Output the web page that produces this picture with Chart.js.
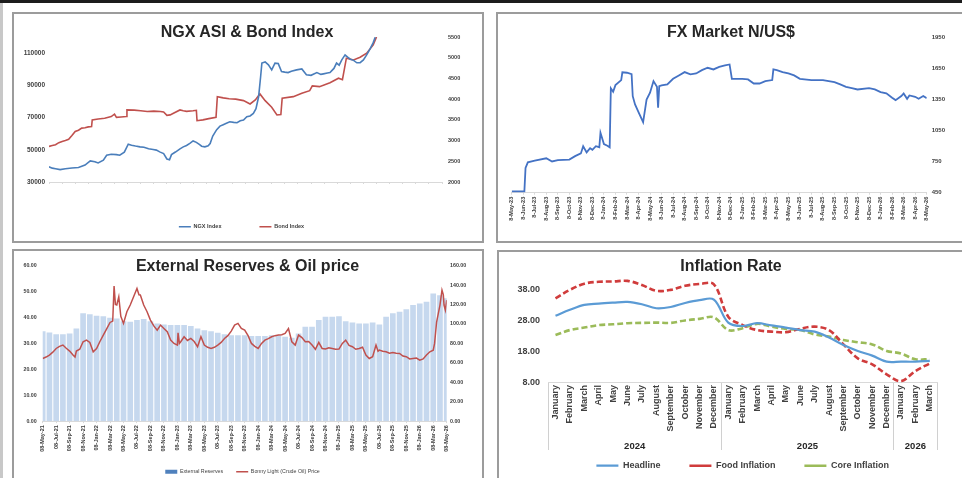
<!DOCTYPE html>
<html>
<head>
<meta charset="utf-8">
<script src="https://cdn.jsdelivr.net/npm/chart.js@4.4.1/dist/chart.umd.min.js"></script>
<style>
html,body{margin:0;padding:0;width:962px;height:478px;overflow:hidden;background:#fff;font-family:"Liberation Sans",Arial,sans-serif;position:relative;}
.topbar{position:absolute;left:0;top:0;width:962px;height:3px;background:#1c1c1c;}
.leftline{position:absolute;left:0;top:3px;width:3px;height:475px;background:#c8c8c8;}
.panel{position:absolute;border:2px solid #9c9c9c;box-sizing:border-box;}
.title{position:absolute;font-weight:bold;font-size:16px;color:#262626;white-space:nowrap;transform:translate(-50%,-50%);line-height:18px;}
canvas{position:absolute;}
</style>
</head>
<body>
<div class="topbar"></div>
<div class="leftline"></div>
<div class="panel" style="left:12px;top:12px;width:472px;height:231px;"></div>
<div class="panel" style="left:496px;top:12px;width:480px;height:231px;"></div>
<div class="panel" style="left:12px;top:249px;width:472px;height:240px;"></div>
<div class="panel" style="left:497px;top:250px;width:480px;height:240px;"></div>

<canvas id="cNgx" width="468" height="226" style="left:14px;top:14px;"></canvas>
<canvas id="cFx" width="464" height="226" style="left:498px;top:14px;"></canvas>
<canvas id="cRes" width="468" height="240" style="left:14px;top:251px;"></canvas>
<canvas id="cInf" width="463" height="240" style="left:499px;top:252px;"></canvas>

<div class="title" style="left:247px;top:32px;">NGX ASI &amp; Bond Index</div>
<div class="title" style="left:731px;top:32px;">FX Market N/US$</div>
<div class="title" style="left:247.5px;top:266px;">External Reserves &amp; Oil price</div>
<div class="title" style="left:731px;top:266px;">Inflation Rate</div>

<script>
// ---------------- DATA ----------------
// NGX ASI & Bond Index (x = months since 8-May-21)
const ngxTickLabels = ['8-May-21','8-Jul-21','8-Sep-21','8-Nov-21','8-Jan-22','8-Mar-22','8-May-22','8-Jul-22','8-Sep-22','8-Nov-22','8-Jan-23','8-Mar-23','8-May-23','8-Jul-23','8-Sep-23','8-Nov-23','8-Jan-24','8-Mar-24','8-May-24','8-Jul-24','8-Sep-24','8-Nov-24','8-Jan-25','8-Mar-25','8-May-25','8-Jul-25','8-Sep-25','8-Nov-25','8-Jan-26','8-Mar-26','8-May-26'];
const ngxAxisTicks = [30000, 50000, 70000, 90000, 110000];
const ngxMonths = [0,0.5,1,1.7,2.5,3.5,4.5,5.5,6.3,7,7.5,8.3,8.8,9.5,10.3,10.8,11.5,12.1,12.6,13.2,13.9,14.5,15.2,15.9,16.4,16.9,17.5,18,18.4,18.7,19.3,20,20.5,21,21.5,22,22.5,23,23.3,23.8,24.3,24.6,25,25.3,25.6,26.1,26.6,27,27.6,28.2,28.7,29.2,29.7,30.2,30.7,31.2,31.6,32,32.3,32.5,33,33.5,34,34.5,35,35.5,36,36.5,37,37.8,38.6,39.3,40,40.9,41.5,41.9,42.5,42.9,43.5,43.9,44.3,44.7,45.2,45.6,46,46.5,47,47.5,48,48.5,49,49.5,49.8];
const ngxValues = [39400,38600,38200,37700,38200,38700,39000,40500,43100,42600,41800,43500,46600,47200,47000,46600,48500,53500,52800,52300,51800,51600,50600,50200,49800,48700,47600,44300,43800,47000,48600,50600,51800,52700,54000,55500,54600,53200,52200,51800,52500,53900,58500,60500,62500,64700,65600,66300,67400,67000,66800,68000,68400,70500,71000,72600,75500,82900,95000,103800,104500,102700,99600,103800,103500,98600,98200,97900,98800,99600,100200,96500,96200,97900,96800,97100,97600,97900,100500,103800,102500,105800,108900,107500,106200,105500,104000,104100,105800,108900,112500,116500,119800];
const bondMonths = [0,0.5,1,1.5,2,2.5,3,3.5,4,4.5,5,5.5,6,6.5,6.6,7.5,8.5,9.5,10,10.3,11,11.8,11.9,13,14,15,16,17,17.5,18,18.5,19,20,20.5,21,22,22.5,22.6,23.5,24.4,25.5,25.7,26.6,27.5,28.5,29.7,30.7,31.5,32.2,33,34,34.8,35.4,35.6,37.3,38.6,39.8,40.2,41.3,42.9,44.2,44.8,45.4,46.5,47.5,48.5,49.5,50];
const bondValues = [2860,2880,2900,2950,2980,3000,3030,3120,3220,3250,3300,3310,3330,3340,3500,3520,3540,3580,3640,3560,3570,3580,3740,3735,3720,3700,3710,3700,3690,3610,3620,3660,3740,3720,3705,3720,3730,3480,3500,3530,3560,4060,4030,4010,4000,3964,3884,3980,4126,3964,3804,3618,3630,4022,4060,4142,4205,4320,4302,4398,4505,4470,4990,4947,5012,5108,5309,5500];

// FX Market N/US$ (x = months since 8-May-23)
const fxTickLabels = ['8-May-23','8-Jun-23','8-Jul-23','8-Aug-23','8-Sep-23','8-Oct-23','8-Nov-23','8-Dec-23','8-Jan-24','8-Feb-24','8-Mar-24','8-Apr-24','8-May-24','8-Jun-24','8-Jul-24','8-Aug-24','8-Sep-24','8-Oct-24','8-Nov-24','8-Dec-24','8-Jan-25','8-Feb-25','8-Mar-25','8-Apr-25','8-May-25','8-Jun-25','8-Jul-25','8-Aug-25','8-Sep-25','8-Oct-25','8-Nov-25','8-Dec-25','8-Jan-26','8-Feb-26','8-Mar-26','8-Apr-26','8-May-26'];
const fxMonths = [0,1.1,1.2,1.4,2,3,3.5,4,5,5.5,6,6.2,6.5,6.8,7,7.3,7.6,7.7,8,8.3,8.5,8.6,8.8,9,9.5,9.6,10,10.4,10.5,10.7,11,11.4,11.7,12,12.3,12.6,12.7,12.8,13,13.5,14,14.5,15,15.5,16,16.5,17,17.5,18,18.5,18.9,19.1,20,20.5,21,21.5,22,22.6,22.7,23,23.5,24,24.5,25,26,27,28,28.5,29,29.5,30,31,31.5,32,32.5,33,33.3,33.8,34,34.3,34.5,35,35.3,35.7,36];
const fxRates = [463,463,690,744,760,783,752,766,770,804,830,900,840,880,865,900,890,1030,920,905,890,1460,1427,1491,1540,1615,1611,1598,1384,1304,1230,1133,1352,1417,1530,1475,1272,1480,1488,1497,1552,1585,1617,1595,1604,1636,1659,1643,1668,1681,1691,1552,1552,1546,1507,1507,1530,1540,1643,1636,1617,1604,1585,1552,1540,1540,1520,1498,1475,1462,1449,1462,1449,1424,1411,1369,1346,1385,1411,1359,1391,1378,1359,1385,1365];

// External Reserves & Oil price (x = months since 08-May-21)
const resTickLabels = ['08-May-21','08-Jul-21','08-Sep-21','08-Nov-21','08-Jan-22','08-Mar-22','08-May-22','08-Jul-22','08-Sep-22','08-Nov-22','08-Jan-23','08-Mar-23','08-May-23','08-Jul-23','08-Sep-23','08-Nov-23','08-Jan-24','08-Mar-24','08-May-24','08-Jul-24','08-Sep-24','08-Nov-24','08-Jan-25','08-Mar-25','08-May-25','08-Jul-25','08-Sep-25','08-Nov-25','08-Jan-26','08-Mar-26','08-May-26'];
const reserveMonths = [0,1,2,3,4,5,6,7,8,9,10,11,12,13,14,15,16,17,18,19,20,21,22,23,24,25,26,27,28,29,30,31,32,33,34,35,36,37,38,39,40,41,42,43,44,45,46,47,48,49,50,51,52,53,54,55,56,57,58,59,60];
const reserveValues = [34.7,34.2,33.5,33.5,33.8,35.8,41.6,41.3,40.7,40.5,39.9,39.6,38.6,38.4,39.0,39.4,38.6,37.7,37.3,37.1,37.1,37.1,36.7,35.8,35.1,34.7,34.1,33.5,33.2,33.2,33.2,32.9,32.9,32.9,33.2,33.2,32.6,32.2,33.8,36.4,36.4,39.0,40.3,40.3,40.5,38.6,38.1,37.7,37.7,38.1,37.3,40.3,41.6,42.2,43.2,44.8,45.4,46.1,49.3,48.6,47.4];
const oilMonths = [0,0.5,1,1.5,2,2.5,3,3.5,4,4.5,4.8,5,5.5,6,6.5,7,7.5,8,8.5,9,9.5,10,10.4,10.6,10.8,11,11.3,11.6,12,12.5,13,13.5,14,14.3,14.5,15,15.5,16,16.5,17,17.5,18,18.5,19,19.5,20,20.1,20.3,20.5,21,21.5,22,22.5,23,23.5,24,24.5,25,25.5,26,26.5,27,27.5,28,28.5,29,29.5,30,30.5,31,31.5,32,32.5,33,33.5,34,34.5,35,35.5,36,36.5,37,37.5,38,38.5,39,39.5,40,40.5,41,41.5,42,42.5,43,43.5,44,44.5,45,45.5,46,46.5,47,47.5,48,48.5,49,49.5,49.8,50,50.5,51,51.5,52,52.5,53,53.5,54,54.5,55,55.5,56,56.5,57,57.5,58,58.2,58.5,59,59.3,59.5,59.6,59.8,60];
const oilPrices = [64.5,66,68,71,74.8,77,78.3,75,72.1,68,66,72.1,74,81.7,83.4,81,71.4,74.8,82,88.6,95,101.6,103,139,120,119.5,128,108,100.6,112.6,119.5,128,136.6,130,129.8,119.5,112.6,104,98,93.7,98.9,95.4,92,83.4,80,78.3,91,80,81.7,86.9,83,85.1,82,76.6,86.9,78.3,76,74.8,76,78.3,81,85.1,88,92.7,98.9,100.6,95.4,93.7,88,80,77,74.8,80,83.4,85,86.9,88,88.6,89,90.3,95.4,81.7,78.3,88.6,86,81.7,82,78.3,74,81,74.8,74.2,75.5,74.8,74,74.2,80,83.4,78,76.6,74,74.8,76,68,64.5,66.3,78.3,72,73.1,72,71.4,70,70.7,70,69.7,67,66.3,64,64.5,65,62.8,64,68,71.4,73,80,102,119.5,134.9,130,119.5,114.3,124.6];

// Inflation Rate
const inflMonths = ['January','February','March','April','May','June','July','August','September','October','November','December','January','February','March','April','May','June','July','August','September','October','November','December','January','February','March'];
const inflYears = ['2024','2025','2026'];
const inflYearSpans = [12, 12, 3];
const inflAxisTicks = [8, 18, 28, 38];
const headline = [29.5,31.4,33.0,33.4,33.7,33.95,33.2,31.9,32.3,33.6,34.5,34.7,27.3,26.2,27.1,26.4,25.7,24.9,24.4,22.5,20.1,18.2,16.7,14.75,14.75,14.75,15.0];
const foodInflation = [35.1,37.8,39.8,40.4,40.5,40.7,39.4,37.5,37.8,39.1,39.7,39.6,29.2,26.5,24.9,24.4,24.2,25.3,26.0,24.9,20.3,15.8,13.9,10.7,8.5,11.75,14.2];
const coreInflation = [23.3,24.9,25.7,26.5,26.75,27.1,27.2,27.3,27.2,28.0,28.5,29.0,24.9,25.5,26.9,26.0,25.25,24.9,23.5,22.8,21.7,21.0,20.3,18.2,17.4,15.5,15.6];

// ---------------- CHARTS ----------------
Chart.defaults.font.family = "'Liberation Sans', Arial, sans-serif";
Chart.defaults.color = '#404040';
Chart.defaults.animation = false;

const pts = (xs, ys) => xs.map((x, i) => ({x: x, y: ys[i]}));
const fb = (size, weight) => ({size: size, weight: weight || 'bold'});
const axisLine = '#d9d9d9';
const noGrid = {display: false, drawTicks: false};

// NGX ASI & Bond Index
new Chart(document.getElementById('cNgx'), {
  type: 'line',
  data: {datasets: [
    {label: 'NGX Index', data: pts(ngxMonths, ngxValues), yAxisID: 'y', borderColor: '#4a7ebb', borderWidth: 1.6, pointRadius: 0, tension: 0},
    {label: 'Bond Index', data: pts(bondMonths, bondValues), yAxisID: 'y1', borderColor: '#c0504d', borderWidth: 1.6, pointRadius: 0, tension: 0}
  ]},
  options: {
    responsive: false,
    layout: {padding: {top: 23, left: 0, right: 13, bottom: 0.5}},
    plugins: {
      legend: {position: 'bottom', labels: {usePointStyle: true, pointStyle: 'line', pointStyleWidth: 12, padding: 38, font: fb(5.5), color: '#404040'}},
      tooltip: {enabled: false}
    },
    scales: {
      x: {type: 'linear', min: 0, max: 60,
          ticks: {stepSize: 2, autoSkip: false, minRotation: 90, maxRotation: 90, padding: 2, font: fb(6.5), callback: v => ngxTickLabels[v / 2]},
          grid: {display: true, drawOnChartArea: false, tickLength: 2, color: axisLine},
          border: {display: true, color: axisLine},
          afterFit: s => { s.height = 4; }},
      y: {position: 'left', min: 30000, max: 120000,
          afterBuildTicks: ax => { ax.ticks = ngxAxisTicks.map(v => ({value: v})); },
          ticks: {padding: 4, font: fb(6.5), callback: v => String(v)},
          grid: noGrid, border: {display: false},
          afterFit: s => { s.width = 35; }},
      y1: {position: 'right', min: 2000, max: 5500,
          ticks: {stepSize: 500, padding: 6, font: fb(5.5), callback: v => String(v)},
          grid: noGrid, border: {display: false},
          afterFit: s => { s.width = 27; }}
    }
  }
});

// FX Market
new Chart(document.getElementById('cFx'), {
  type: 'line',
  data: {datasets: [
    {label: 'N/US$', data: pts(fxMonths, fxRates), borderColor: '#4472c4', borderWidth: 1.8, pointRadius: 0, tension: 0}
  ]},
  options: {
    responsive: false,
    layout: {padding: {top: 23.7, left: 13.7, right: 0, bottom: 7.3}},
    plugins: {legend: {display: false}, tooltip: {enabled: false}},
    scales: {
      x: {type: 'linear', min: 0, max: 36,
          ticks: {stepSize: 1, autoSkip: false, minRotation: 90, maxRotation: 90, padding: 2, font: fb(5.6), callback: v => fxTickLabels[v]},
          grid: {display: true, drawOnChartArea: false, tickLength: 2, color: axisLine},
          border: {display: true, color: axisLine},
          afterFit: s => { s.height = 40; }},
      y: {position: 'right', min: 450, max: 1950,
          ticks: {stepSize: 300, padding: 5, font: fb(6), callback: v => String(v)},
          grid: noGrid, border: {display: false},
          afterFit: s => { s.width = 35.3; }}
    }
  }
});

// External Reserves & Oil price
new Chart(document.getElementById('cRes'), {
  type: 'bar',
  data: {datasets: [
    {type: 'bar', label: 'External Reserves', data: pts(reserveMonths, reserveValues), yAxisID: 'y', backgroundColor: '#c6d8ee', borderWidth: 0, barPercentage: 1, categoryPercentage: 0.84, order: 1},
    {type: 'line', label: 'Bonny Light (Crude Oil) Price', data: pts(oilMonths, oilPrices), yAxisID: 'y1', borderColor: '#c0504d', borderWidth: 1.5, pointRadius: 0, tension: 0, order: 0}
  ]},
  options: {
    responsive: false,
    layout: {padding: {top: 14.7, left: 0, right: 11, bottom: 6.55}},
    plugins: {
      legend: {position: 'bottom', labels: {
        usePointStyle: true, pointStyleWidth: 12, boxHeight: 4, padding: 13, font: fb(5.3, 'normal'), color: '#404040',
        generateLabels: chart => {
          const items = Chart.defaults.plugins.legend.labels.generateLabels(chart).sort((a, b) => a.datasetIndex - b.datasetIndex);
          items.forEach(it => {
            if (it.datasetIndex === 0) { it.pointStyle = 'rect'; it.fillStyle = '#4f81bd'; it.strokeStyle = '#4f81bd'; it.lineWidth = 0; }
            else { it.pointStyle = 'line'; }
          });
          return items;
        }
      }},
      tooltip: {enabled: false}
    },
    scales: {
      x: {type: 'linear', min: 0, max: 60, offset: false,
          ticks: {stepSize: 2, autoSkip: false, minRotation: 90, maxRotation: 90, padding: 2, font: fb(5.5), callback: v => resTickLabels[v / 2]},
          grid: {display: true, offset: false, drawOnChartArea: false, tickLength: 2, color: axisLine},
          border: {display: true, color: axisLine},
          afterFit: s => { s.height = 35; }},
      y: {position: 'left', min: 0, max: 60,
          ticks: {stepSize: 10, padding: 6, font: fb(5.3), callback: v => v.toFixed(2)},
          grid: noGrid, border: {display: false},
          afterFit: s => { s.width = 28.7; }},
      y1: {position: 'right', min: 0, max: 160,
          ticks: {stepSize: 20, padding: 3.3, font: fb(5.3), callback: v => v.toFixed(2)},
          grid: noGrid, border: {display: false},
          afterFit: s => { s.width = 24.3; }}
    }
  }
});

// Inflation Rate
const yearStarts = [];
const yearCenters = [];
inflYearSpans.reduce((start, span) => { yearStarts.push(start); yearCenters.push(start + (span - 1) / 2); return start + span; }, 0);
const legendGap = '\u2003\u2003 ';

new Chart(document.getElementById('cInf'), {
  type: 'line',
  data: {labels: inflMonths, datasets: [
    {label: 'Headline', data: headline, xAxisID: 'x', borderColor: '#5b9bd5', borderWidth: 2.2, pointRadius: 0, tension: 0.35},
    {label: 'Food Inflation', data: foodInflation, xAxisID: 'x', borderColor: '#d03c3c', borderWidth: 2.6, borderDash: [6, 3], pointRadius: 0, tension: 0.35},
    {label: 'Core Inflation', data: coreInflation, xAxisID: 'x', borderColor: '#9bbb59', borderWidth: 2.6, borderDash: [6, 3], pointRadius: 0, tension: 0.35}
  ]},
  options: {
    responsive: false,
    layout: {padding: {top: 21.7, left: 0, right: 25, bottom: 11.8}},
    plugins: {
      legend: {position: 'bottom', fullSize: false, labels: {
        usePointStyle: true, pointStyle: 'line', pointStyleWidth: 22, padding: 8.5, font: fb(9), color: '#404040',
        generateLabels: chart => {
          const items = Chart.defaults.plugins.legend.labels.generateLabels(chart);
          items.forEach((it, i) => { if (i < items.length - 1) it.text = it.text + legendGap; });
          return items;
        }
      }},
      tooltip: {enabled: false}
    },
    scales: {
      x: {type: 'category', offset: true,
          ticks: {autoSkip: false, minRotation: 90, maxRotation: 90, padding: -65, font: fb(9), color: '#404040'},
          grid: {display: true, offset: true, drawOnChartArea: false, tickLength: 67.3,
                 color: c => (c.type !== 'tick' || yearStarts.includes(c.index)) ? '#d0d0d0' : 'rgba(0,0,0,0)'},
          border: {display: true, color: axisLine},
          afterFit: s => { s.height = 50; }},
      x2: {type: 'linear', position: 'bottom', min: -0.5, max: inflMonths.length - 0.5,
          afterBuildTicks: ax => { ax.ticks = yearCenters.map(v => ({value: v})); },
          ticks: {autoSkip: false, maxRotation: 0, padding: 7.6, font: fb(9.5), color: '#262626', callback: (v, i) => inflYears[i]},
          grid: noGrid, border: {display: false},
          afterFit: s => { s.height = 20; }},
      y: {min: 8, max: 43,
          afterBuildTicks: ax => { ax.ticks = inflAxisTicks.map(v => ({value: v})); },
          ticks: {padding: 8.3, font: fb(9), color: '#404040', callback: v => v.toFixed(2)},
          grid: noGrid, border: {display: false},
          afterFit: s => { s.width = 49.3; }}
    }
  }
});
</script>
</body>
</html>
